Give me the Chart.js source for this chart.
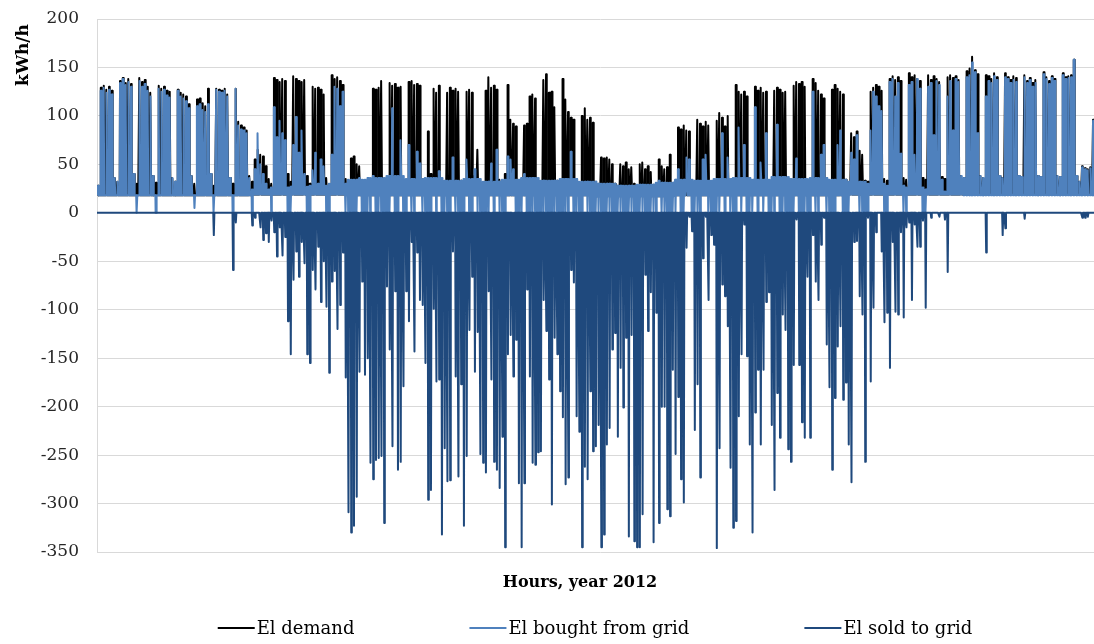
<!DOCTYPE html>
<html>
<head>
<meta charset="utf-8">
<title>El demand, bought and sold, 2012</title>
<script src="https://cdn.jsdelivr.net/npm/chart.js@4.4.1/dist/chart.umd.min.js"></script>
<style>
    html, body { margin: 0; padding: 0; background: #fff; overflow: hidden; }
    #wrap { position: relative; width: 1103px; height: 644px; }
</style>
</head>
<body>
<div id="wrap"><canvas id="elChart"></canvas></div>
<script>
// Daily values, one row per week (Sun..Sat), year 2012 (366 days)
const demandPeak = [
    28, 129, 131, 127, 130, 126, 36,
    32, 136, 139, 134, 138, 133, 40,
    30, 139, 135, 137, 130, 124, 38,
    31, 131, 128, 130, 126, 125, 36,
    32, 127, 124, 122, 120, 112, 38,
    30, 117, 118, 113, 110, 128, 40,
    28, 128, 127, 126, 128, 122, 36,
    30, 128, 94, 90, 88, 85, 38,
    32, 55, 65, 60, 58, 48, 35,
    30, 139, 137, 135, 138, 136, 40,
    32, 141, 138, 136, 135, 137, 38,
    30, 130, 128, 129, 127, 122, 36,
    28, 142, 138, 140, 136, 132, 35,
    30, 56, 58, 50, 48, 32, 30,
    30, 34, 128, 127, 129, 136, 33,
    32, 134, 131, 133, 129, 130, 35,
    30, 135, 136, 132, 133, 131, 34,
    30, 84, 40, 128, 124, 131, 33,
    30, 124, 129, 126, 128, 125, 33,
    30, 125, 127, 124, 38, 65, 32,
    30, 126, 140, 129, 131, 127, 34,
    30, 40, 132, 96, 92, 89, 33,
    30, 90, 92, 120, 122, 118, 32,
    30, 137, 143, 124, 125, 109, 33,
    30, 138, 117, 104, 98, 96, 32,
    30, 100, 108, 96, 98, 93, 32,
    28, 57, 56, 57, 55, 50, 30,
    28, 50, 48, 52, 45, 47, 30,
    28, 50, 52, 45, 48, 42, 29,
    28, 55, 48, 45, 47, 60, 30,
    30, 88, 86, 90, 85, 84, 32,
    30, 96, 92, 89, 94, 90, 32,
    30, 95, 103, 98, 89, 100, 32,
    30, 132, 125, 122, 125, 120, 33,
    30, 130, 126, 129, 124, 125, 33,
    30, 126, 129, 127, 124, 125, 33,
    30, 131, 135, 133, 135, 130, 33,
    30, 138, 134, 126, 122, 118, 33,
    30, 127, 132, 128, 125, 122, 34,
    30, 82, 78, 84, 64, 60, 33,
    32, 125, 129, 132, 130, 126, 35,
    33, 138, 141, 137, 140, 136, 36,
    34, 144, 140, 142, 138, 136, 36,
    34, 142, 137, 141, 138, 135, 37,
    35, 140, 142, 139, 141, 137, 38,
    36, 146, 149, 161, 147, 143, 38,
    36, 142, 141, 138, 144, 140, 38,
    36, 144, 140, 137, 141, 139, 38,
    37, 142, 136, 139, 134, 137, 38,
    37, 145, 140, 136, 141, 138, 38,
    37, 144, 140, 141, 142, 158, 38,
    32, 48, 46, 45, 47, 96, 33,
    32, 130
];

// level bought from the grid during working hours
const boughtDay = [
    28, 126, 129, 124, 127, 122, 36,
    32, 134, 138, 132, 135, 130, 40,
    0, 136, 130, 133, 126, 120, 38,
    0, 128, 125, 127, 121, 119, 36,
    32, 126, 120, 118, 115, 108, 38,
    5, 110, 112, 106, 104, 112, 40,
    0, 127, 125, 124, 126, 120, 36,
    0, 128, 90, 86, 85, 82, 36,
    0, 45, 82, 50, 40, 30, 20,
    0, 109, 78, 95, 82, 75, 0,
    0, 70, 99, 62, 85, 40, 0,
    0, 44, 62, 30, 55, 48, 0,
    0, 60, 130, 128, 110, 125, 0,
    0, 0, 0, 0, 36, 0, 0,
    0, 0, 38, 0, 0, 0, 0,
    0, 0, 108, 0, 0, 75, 0,
    0, 70, 0, 0, 63, 51, 0,
    0, 0, 0, 30, 0, 43, 0,
    0, 0, 0, 57, 0, 0, 0,
    0, 55, 0, 0, 45, 0, 0,
    0, 0, 0, 51, 0, 65, 0,
    0, 0, 58, 55, 45, 0, 0,
    0, 40, 0, 0, 0, 0, 0,
    0, 0, 0, 0, 0, 0, 0,
    0, 0, 0, 0, 63, 0, 0,
    0, 0, 31, 0, 0, 0, 0,
    0, 0, 0, 0, 0, 0, 0,
    0, 0, 0, 0, 0, 0, 0,
    0, 0, 0, 0, 0, 0, 0,
    0, 33, 0, 0, 0, 0, 0,
    0, 45, 0, 0, 57, 55, 0,
    0, 0, 0, 55, 60, 0, 0,
    0, 0, 0, 82, 0, 57, 0,
    0, 0, 88, 0, 70, 0, 0,
    0, 109, 0, 52, 0, 82, 0,
    0, 0, 91, 0, 0, 0, 0,
    0, 0, 56, 0, 0, 0, 0,
    0, 125, 0, 0, 60, 70, 0,
    0, 0, 0, 70, 85, 0, 0,
    0, 62, 55, 80, 0, 0, 0,
    0, 85, 125, 120, 110, 105, 0,
    0, 135, 138, 120, 134, 61, 0,
    0, 132, 135, 60, 138, 128, 0,
    0, 130, 134, 80, 136, 132, 34,
    20, 120, 136, 85, 138, 135, 38,
    36, 140, 142, 155, 145, 82, 38,
    36, 120, 136, 134, 141, 137, 38,
    36, 140, 138, 134, 137, 135, 38,
    37, 140, 134, 137, 130, 134, 38,
    37, 143, 138, 133, 139, 136, 38,
    37, 142, 138, 139, 140, 158, 38,
    32, 47, 45, 44, 46, 95, 33,
    32, 128
];

// deepest hour sold to the grid each day (negative)
const soldPeak = [
    0, 0, 0, 0, 0, 0, 0,
    0, 0, 0, 0, 0, 0, 0,
    0, 0, 0, 0, 0, 0, 0,
    0, 0, 0, 0, 0, 0, 0,
    0, 0, 0, 0, 0, 0, 0,
    0, 0, 0, 0, 0, 0, 0,
    -23, 0, 0, 0, 0, 0, 0,
    -59, -10, 0, 0, 0, 0, 0,
    -13, -5, 0, -15, -28, -21, -30,
    -8, -20, -45, -15, -44, -25, -112,
    -146, -69, -40, -66, -30, -52, -146,
    -155, -59, -79, -35, -92, -50, -97,
    -165, -71, -60, -120, -95, -41, -170,
    -309, -330, -323, -293, -164, -71, -167,
    -150, -258, -275, -255, -253, -251, -320,
    -76, -141, -241, -81, -265, -257, -179,
    -81, -112, -30, -143, -41, -90, -95,
    -155, -296, -286, -99, -174, -172, -332,
    -243, -277, -276, -40, -169, -272, -177,
    -323, -251, -121, -66, -164, -123, -249,
    -258, -268, -81, -172, -257, -265, -284,
    -231, -345, -146, -126, -169, -131, -279,
    -345, -279, -79, -169, -258, -260, -247,
    -246, -90, -122, -172, -301, -129, -146,
    -184, -211, -280, -273, -59, -72, -210,
    -226, -345, -262, -275, -184, -246, -241,
    -219, -345, -332, -239, -222, -141, -124,
    -231, -160, -201, -129, -334, -126, -339,
    -345, -345, -311, -64, -122, -82, -340,
    -103, -320, -200, -200, -306, -313, -162,
    -249, -190, -275, -299, -36, -4, -19,
    -224, -177, -273, -47, -4, -90, -23,
    -33, -346, -243, -74, -86, -117, -263,
    -325, -318, -210, -146, -12, -148, -239,
    -330, -206, -162, -239, -162, -92, -82,
    -219, -286, -186, -232, -105, -121, -244,
    -257, -157, -7, -157, -216, -232, -66,
    -232, -23, -71, -90, -33, -5, -136,
    -180, -265, -191, -138, -117, -193, -175,
    -239, -278, -30, -29, -86, -105, -257,
    -5, -174, -98, -20, 0, -40, -113,
    -103, -160, -30, -102, -105, -20, -108,
    -15, -10, -90, -12, -35, -35, -8,
    -98, 0, -5, 0, 0, -4, 0,
    -7, -61, 0, 0, 0, 0, 0,
    0, 0, 0, 0, 0, 0, 0,
    0, -41, 0, 0, 0, 0, 0,
    -23, -16, 0, 0, 0, 0, 0,
    0, -6, 0, 0, 0, 0, 0,
    0, 0, 0, 0, 0, 0, 0,
    0, 0, 0, 0, 0, 0, 0,
    0, -5, -5, -4, 0, 0, 0,
    0, 0
];

// night-time load, one value per week
const nightBase = [
    18, 18, 18, 18, 18, 18, 18, 18, 19, 19, 19, 19, 19, 18, 18, 18, 18, 18,
    18, 18, 18, 18, 18, 18, 18, 18, 17, 17, 17, 17, 18, 18, 18, 18, 18, 18,
    18, 18, 18, 19, 19, 19, 19, 19, 19, 19, 19, 19, 19, 19, 19, 19, 19
];

// early-morning / late-afternoon grid purchase, one value per week
const boughtShoulder = [
    18, 18, 18, 18, 18, 18, 18, 18, 24, 26, 27, 28, 30, 34, 36, 38, 35, 36,
    33, 35, 32, 34, 36, 33, 35, 32, 30, 28, 29, 31, 34, 33, 35, 36, 34, 37,
    35, 36, 34, 32, 30, 28, 26, 24, 22, 18, 18, 18, 18, 18, 18, 18, 18
];

const seriesNames = ['El demand', 'El bought from grid', 'El sold to grid'];
const seriesColors = ['#000000', '#4f81bd', '#1f497d'];
const yMin = -350, yMax = 200, yStep = 50;
const hoursInYear = 8784;

// hourly shape of each day: night base, short working-hours top, back to base
const demandPts = [], boughtPts = [], soldPts = [];
for (let d = 0; d < demandPeak.length; d++) {
    const h = d * 24;
    const wk = Math.floor(d / 7);
    const base = nightBase[wk];
    const sh = boughtShoulder[wk];
    demandPts.push({ x: h, y: base }, { x: h + 6, y: base }, { x: h + 9, y: demandPeak[d] },
        { x: h + 13, y: demandPeak[d] }, { x: h + 17, y: base });
    boughtPts.push({ x: h, y: base }, { x: h + 6, y: base }, { x: h + 7, y: sh },
        { x: h + 9, y: boughtDay[d] }, { x: h + 13, y: boughtDay[d] },
        { x: h + 16, y: sh }, { x: h + 17, y: base });
    soldPts.push({ x: h, y: 0 }, { x: h + 7, y: 0 }, { x: h + 12, y: soldPeak[d] }, { x: h + 17, y: 0 });
}
soldPts.push({ x: hoursInYear, y: 0 });

const textFont = '"DejaVu Serif", "Liberation Serif", serif';

const chartText = {
    id: 'chartText',
    afterDraw(chart) {
        const ctx = chart.ctx;
        ctx.save();
        ctx.fillStyle = '#000';
        ctx.textBaseline = 'middle';

        // y axis title, top left
        ctx.save();
        ctx.font = 'bold 17px ' + textFont;
        ctx.translate(24, 55);
        ctx.rotate(-Math.PI / 2);
        ctx.textAlign = 'center';
        ctx.fillText('kWh/h', 0, 0);
        ctx.restore();

        // x axis title
        ctx.font = 'bold 16px ' + textFont;
        ctx.textAlign = 'center';
        ctx.fillText('Hours, year 2012', 580, 583);

        // legend
        ctx.font = '18px ' + textFont;
        ctx.textAlign = 'left';
        const lineLen = 37, gap = 2, spacing = 115;
        const widths = seriesNames.map(n => lineLen + gap + ctx.measureText(n).width);
        const total = widths.reduce((a, b) => a + b, 0) + spacing * (seriesNames.length - 1);
        let x = 595 - total / 2;
        const y = 628;
        seriesNames.forEach((name, i) => {
            ctx.strokeStyle = seriesColors[i];
            ctx.lineWidth = 2;
            ctx.beginPath();
            ctx.moveTo(x, y);
            ctx.lineTo(x + lineLen, y);
            ctx.stroke();
            ctx.fillStyle = '#000';
            ctx.fillText(name, x + lineLen + gap, y + 1);
            x += widths[i] + spacing;
        });
        ctx.restore();
    }
};

new Chart(document.getElementById('elChart'), {
    type: 'line',
    data: {
        datasets: [
            { label: seriesNames[0], data: demandPts, borderColor: seriesColors[0], order: 2 },
            { label: seriesNames[1], data: boughtPts, borderColor: seriesColors[1], order: 1 },
            { label: seriesNames[2], data: soldPts, borderColor: seriesColors[2], order: 0 }
        ]
    },
    options: {
        responsive: true,
        maintainAspectRatio: false,
        animation: false,
        events: [],
        layout: { padding: { top: 19, bottom: 92, left: 0, right: 0 } },
        elements: {
            point: { radius: 0 },
            line: { borderWidth: 2, tension: 0, borderJoinStyle: 'round', fill: false }
        },
        plugins: {
            legend: { display: false },
            tooltip: { enabled: false }
        },
        scales: {
            x: { type: 'linear', min: 0, max: hoursInYear, display: false },
            y: {
                min: yMin,
                max: yMax,
                afterFit: scale => { scale.width = 97; },
                ticks: {
                    stepSize: yStep,
                    padding: 8,
                    color: '#262626',
                    font: { family: textFont, size: 17 }
                },
                grid: { color: '#d9d9d9', drawTicks: true, tickLength: 10, tickColor: 'rgba(0,0,0,0)' },
                border: { color: '#d9d9d9' }
            }
        }
    },
    plugins: [chartText]
});
</script>
</body>
</html>
